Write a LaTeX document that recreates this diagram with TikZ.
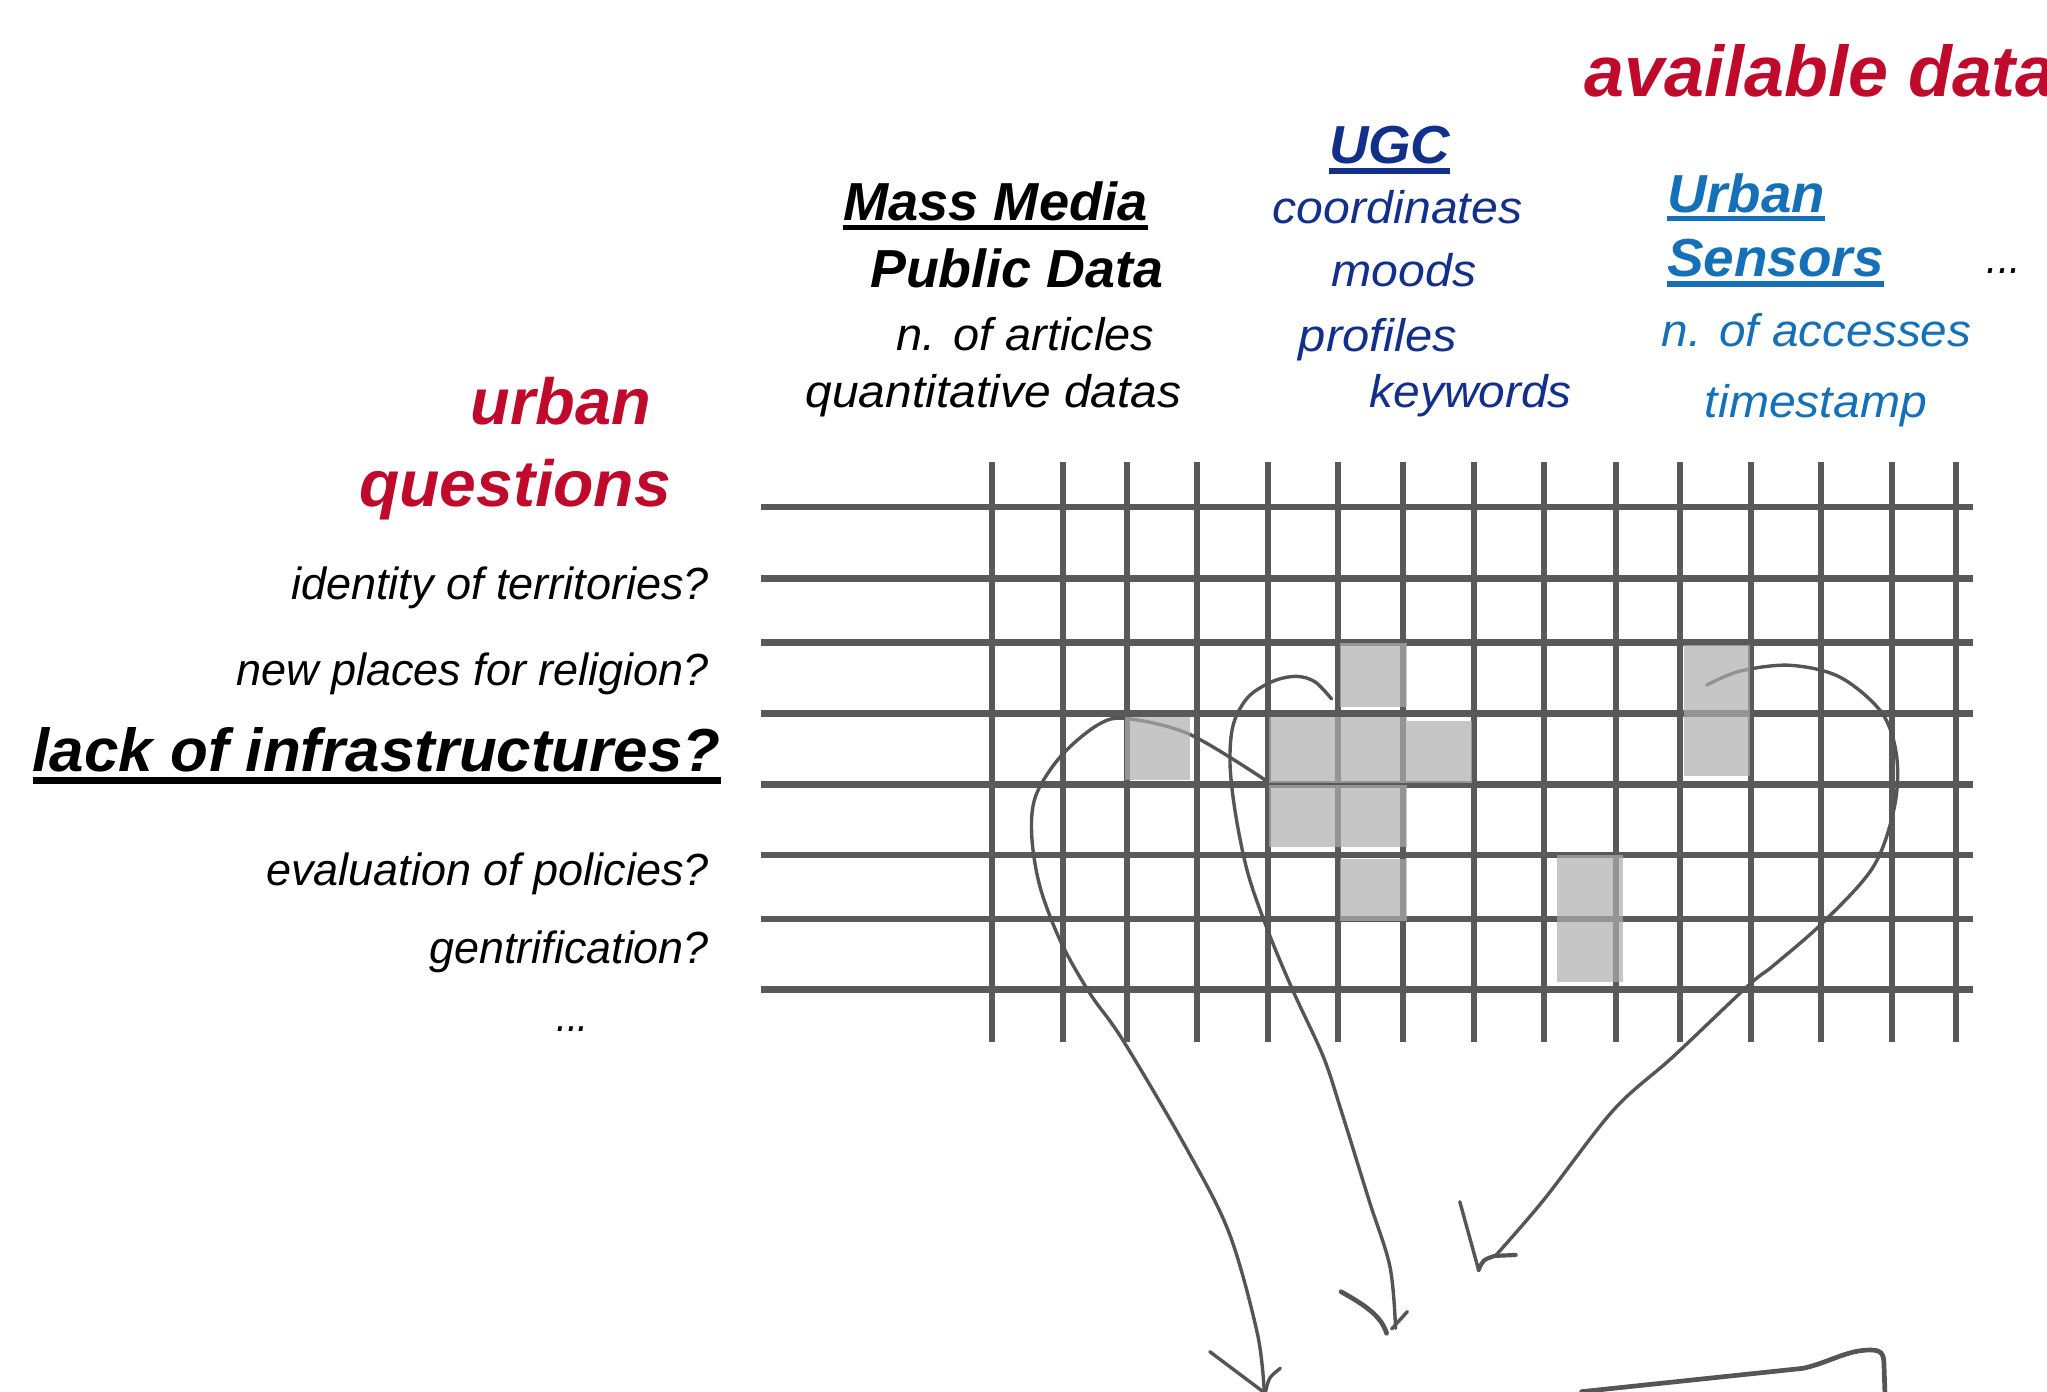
\documentclass[tikz,border=0pt]{standalone}
\usepackage{fontspec}
\setmainfont{Liberation Sans}
\usepackage{graphicx}
\definecolor{qred}{HTML}{BF0A2C}
\definecolor{dblue}{HTML}{12308A}
\definecolor{mblue}{HTML}{1570B8}
\definecolor{gridc}{RGB}{89,89,89}
\definecolor{curvc}{RGB}{85,85,85}
\definecolor{cellc}{RGB}{174,174,174}
\newlength\pxu
\setlength\pxu{0.5pt}
\newcommand\fitbox[3]{\resizebox{#1\pxu}{\height}{\fontsize{#2}{#2}\selectfont #3}}
\begin{document}
\begin{tikzpicture}[x=0.5pt,y=-0.5pt,
  txt/.style={inner sep=0pt,outer sep=0pt},
  hline/.style={draw=gridc,line width=2.5pt},
  vline/.style={draw=gridc,line width=2.3pt},
  curve/.style={draw=curvc,line width=1.3pt,line cap=round,line join=round},
  cell/.style={fill=cellc,fill opacity=0.7},
  ul/.style={line width=2pt}]
\useasboundingbox (0,0) rectangle (1568,1066);

% title
\node[txt,anchor=base west,text=qred] (avail) at (1214,74) {\fontsize{27.5}{27.5}\selectfont\bfseries\itshape available data};

% Mass media column
\node[txt,anchor=base west] (mm) at (646,169) {\fitbox{233}{20.5}{\bfseries\itshape Mass Media}};
\draw[ul,black] ([yshift=-2.75pt]mm.base west) -- ([yshift=-2.75pt]mm.base east);
\node[txt,anchor=base west] (pd) at (666.5,220) {\fitbox{224.5}{20.5}{\bfseries\itshape Public Data}};
\node[txt,anchor=base west] (noa) at (687,268.5) {\fitbox{197}{17.5}{\itshape n. of articles}};
\node[txt,anchor=base west] (qd) at (617,312.5) {\fitbox{288}{17.5}{\itshape quantitative datas}};

% UGC column
\node[txt,anchor=base west,text=dblue] (ugc) at (1018,125) {\fitbox{93}{20.5}{\bfseries\itshape UGC}};
\draw[ul,dblue] ([yshift=-3pt]ugc.base west) -- ([yshift=-3pt]ugc.base east);
\node[txt,anchor=base west,text=dblue] (coo) at (975,171.5) {\fitbox{191}{17.5}{\itshape coordinates}};
\node[txt,anchor=base west,text=dblue] (moo) at (1020,219.5) {\fitbox{111}{17.5}{\itshape moods}};
\node[txt,anchor=base west,text=dblue] (pro) at (995,269) {\fitbox{121}{17.5}{\itshape profiles}};
\node[txt,anchor=base west,text=dblue] (key) at (1049,312.5) {\fitbox{155}{17.5}{\itshape keywords}};

% Urban sensors column
\node[txt,anchor=base west,text=mblue] (urb) at (1277,162.5) {\fitbox{121}{20.5}{\bfseries\itshape Urban}};
\draw[ul,mblue] ([yshift=-2.5pt]urb.base west) -- ([yshift=-2.5pt]urb.base east);
\node[txt,anchor=base west,text=mblue] (sen) at (1277,212) {\fitbox{166}{20.5}{\bfseries\itshape Sensors}};
\draw[ul,mblue] ([yshift=-2.75pt]sen.base west) -- ([yshift=-2.75pt]sen.base east);
\node[txt,anchor=base west,text=mblue] (noac) at (1273,265.5) {\fitbox{237}{17.5}{\itshape n. of accesses}};
\node[txt,anchor=base west,text=mblue] (ts) at (1306,320) {\fitbox{170}{17.5}{\itshape timestamp}};
\node[txt,anchor=base west] (dotsa) at (1522,209.5) {\fitbox{26}{17.5}{\itshape ...}};

% urban questions
\node[txt,anchor=base east,text=qred] (uq1) at (498.5,325.5) {\fitbox{138}{25}{\bfseries\itshape urban}};
\node[txt,anchor=base east,text=qred] (uq2) at (514,388) {\fitbox{239}{25}{\bfseries\itshape questions}};
\node[txt,anchor=base east] (q1) at (543,459) {\fitbox{320}{17.25}{\itshape identity of territories?}};
\node[txt,anchor=base east] (q2) at (543,525) {\fitbox{362}{17.25}{\itshape new places for religion?}};
\node[txt,anchor=base east] (q3) at (552,591) {\fitbox{527}{23.25}{\bfseries\itshape lack of infrastructures?}};
\draw[line width=2.5pt,black] ([yshift=-3.5pt]q3.base west) -- ([yshift=-3.5pt]q3.base east);
\node[txt,anchor=base east] (q4) at (543,678) {\fitbox{339}{17.25}{\itshape evaluation of policies?}};
\node[txt,anchor=base east] (q5) at (543,738) {\fitbox{214}{17.25}{\itshape gentrification?}};
\node[txt,anchor=base east] (dotsb) at (451,790) {\fitbox{25}{17.25}{\itshape ...}};

% grid
\foreach \x in {760,814,863,917,971,1025,1075,1129,1183,1238,1287,1341,1395,1449,1498}
  \draw[vline] (\x,354) -- (\x,798.5);
\foreach \y in {388.5,443,492,546.5,601,655,704,758}
  \draw[hline] (583,\y) -- (1511.5,\y);

% curves
\draw[curve] plot[smooth,tension=0.55] coordinates {(969,597.4) (911.5,562.6) (863.7,550.5) (841.3,555) (812.6,579.2) (793.4,609.5) (790.3,639.8) (796.6,679.1) (812.6,721.5) (834.9,761) (860.4,797.2) (909.5,880.9) (941.6,944.7) (963.1,1021.3) (968.4,1066)};
\draw[curve] (926.7,1035.4) -- (967.5,1066);
\draw[curve] (980.7,1048.1) .. controls (972,1055) .. (969.4,1066);

\draw[curve] plot[smooth,tension=0.55] coordinates {(1020,535.4) (1007.3,522.3) (993.2,518.1) (975.4,521.7) (956.2,533.8) (944.7,555) (942.2,585.3) (946.6,624.7) (956.2,670.1) (972.2,715.5) (991.3,760.9) (1013.6,809.3) (1027.2,850.3) (1048.6,919.2) (1064.7,970.3) (1069,1017.5)};
\draw[curve,line width=1.8pt] (1027.2,989.4) .. controls (1046,1000) and (1058,1008) .. (1062.1,1021.3);
\draw[curve] (1078,1004.7) -- (1066,1018);

\draw[curve] plot[smooth,tension=0.55] coordinates {(1307.3,524.8) (1332.8,514.1) (1371.1,509.6) (1409.4,518.7) (1441.4,545.9) (1452.8,579.2) (1451,618.6) (1434.9,664) (1396.6,706.4) (1358.3,739.7) (1339.2,754.9) (1281.7,809.3) (1235.9,850.3) (1182.4,919.2) (1144.9,962.6)};
\draw[curve] (1118.2,920.5) -- (1132.6,972.8);
\draw[curve,line width=1.6pt] (1132.6,972.8) .. controls (1136,965) .. (1145,962) -- (1161,961.3);

\draw[curve,line width=1.8pt] (1211.5,1066) -- (1381.3,1048.1) .. controls (1400,1044) and (1415,1034) .. (1432.4,1034.1) .. controls (1441,1034) and (1443,1037) .. (1443.1,1045) -- (1443.9,1068);

% highlighted cells
\fill[cell] (861.8,549) rectangle (911.5,597.4);
\fill[cell] (1026.4,492.4) rectangle (1077.5,541.4);
\fill[cell] (972,549) rectangle (1077.5,599.8);
\fill[cell] (1077.5,552) rectangle (1127.3,599.8);
\fill[cell] (972,601) rectangle (1077.5,648.8);
\fill[cell] (1026.4,658) rectangle (1077.5,705.8);
\fill[cell] (1192.4,655) rectangle (1243.4,752.4);
\fill[cell] (1290,494.4) rectangle (1340.5,594.4);
\end{tikzpicture}
\end{document}
